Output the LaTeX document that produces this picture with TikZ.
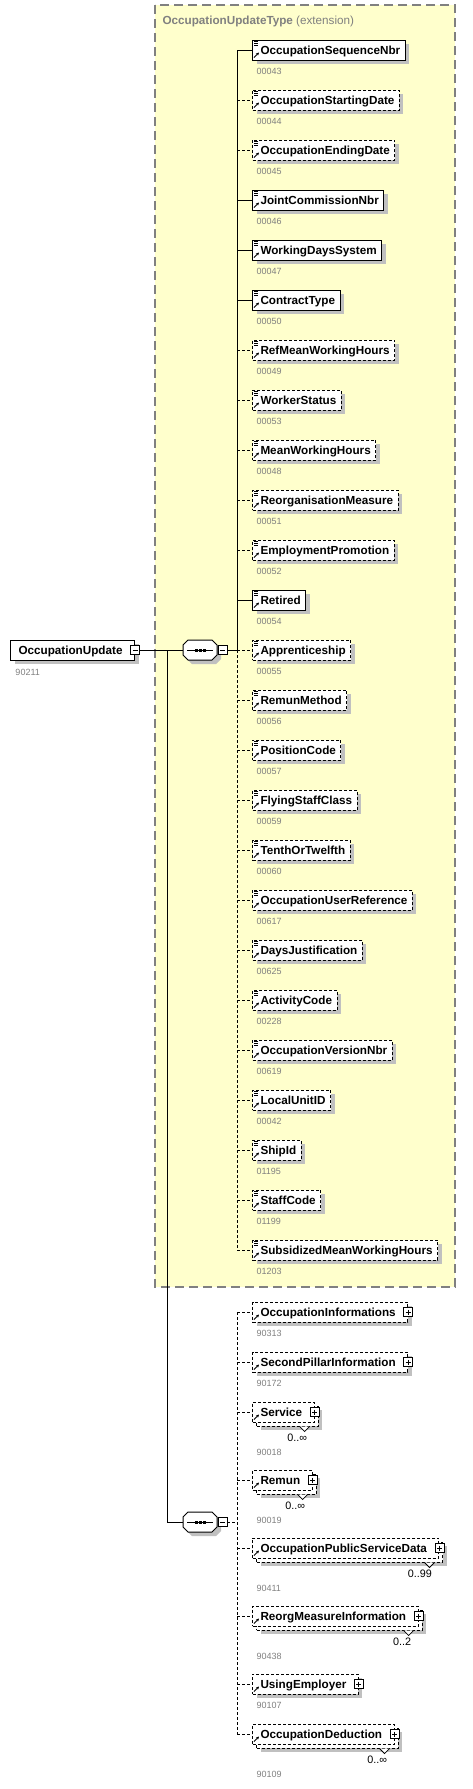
\documentclass[tikz,border=0pt]{standalone}
\usepackage{fontspec}
\setmainfont{Liberation Sans}
\usepackage{tikz}
\usetikzlibrary{positioning,calc,shadows,arrows.meta}

\definecolor{typefill}{RGB}{255,255,204}
\definecolor{typeborder}{RGB}{128,128,128}
\definecolor{idgray}{RGB}{128,128,128}
\definecolor{shadowgray}{RGB}{192,192,192}

\newcommand{\namefont}{\fontsize{11.7}{14}\selectfont\bfseries}
\newcommand{\idfont}{\fontsize{9}{11}\selectfont}
\newcommand{\occfont}{\fontsize{10.8}{12}\selectfont}

% small icons inside the element boxes
\newcommand{\simpleicon}[1]{%
  \draw[line width=0.7pt] ($(#1.north west)+(2,2)$) -- +(4,0)
    ($(#1.north west)+(2,4)$) -- +(4,0)
    ($(#1.north west)+(2,6)$) -- +(4,0);}
\newcommand{\refarrow}[1]{%
  \draw[line width=0.8pt,-{Stealth[length=3pt,width=3pt]}] ($(#1.south west)+(2,-3)$) -- +(5,-5);}
\newcommand{\manychevron}[2]{%
  \draw[line width=0.8pt,fill=white] ($(#1.south east)+(-15,4)$) -- +(5,5) -- +(10,0);
  \node[occ] (#1-occ) at ($(#1.south east)+(-7,15)$) {#2};}
% sequence compositor drawn round its node
\newcommand{\seqoctagon}[1]{%
  \begin{scope}[shift={(#1.center)}]
    \fill[shadowgray] (-13,-1) -- (-8,-6) -- (16,-6) -- (21,-1) -- (21,9) -- (16,14) -- (-8,14) -- (-13,9) -- cycle;
    \filldraw[fill=white] (-17,-5) -- (-12,-10) -- (12,-10) -- (17,-5) -- (17,5) -- (12,10) -- (-12,10) -- (-17,5) -- cycle;
    \draw[line width=0.8pt] (-13,0) -- (13,0);
    \foreach \dx in {-4,0,4}
      \fill (\dx-1.5,-1.5) rectangle (\dx+1.5,1.5);
  \end{scope}}

\tikzset{
  base/.style={draw, fill=white, anchor=west, minimum height=20pt, inner sep=0pt,
    text height=10pt, text depth=1.6pt, font=\namefont,
    execute at begin node={\hspace*{8pt}}},
  simple/.style={base, execute at end node={\hspace*{5pt}}},
  cplx/.style={base, execute at end node={\hspace*{12pt}}},
  shade/.style={drop shadow={shadow xshift=4pt, shadow yshift=-4pt, fill=shadowgray, opacity=1}},
  optional/.style={dash pattern=on 3pt off 2pt},
  multi/.style={preaction={fill=shadowgray, transform canvas={shift={(8pt,-8pt)}}},
    preaction={draw, fill=white, transform canvas={shift={(4pt,-4pt)}}}},
  idlabel/.style={anchor=west, inner sep=0pt, font=\idfont, text=idgray},
  occ/.style={anchor=east, inner sep=0pt, font=\occfont},
  pm/.style={draw, solid, fill=white, minimum size=9pt, inner sep=0pt, line width=0.8pt},
  minus/.style={pm, path picture={\draw[line width=0.8pt]
    ([xshift=2pt]path picture bounding box.west) -- ([xshift=-2pt]path picture bounding box.east);}},
  plus/.style={pm, path picture={\draw[line width=0.8pt]
    ([xshift=2pt]path picture bounding box.west) -- ([xshift=-2pt]path picture bounding box.east)
    ([yshift=-2pt]path picture bounding box.north) -- ([yshift=2pt]path picture bounding box.south);}},
  seq/.style={minimum width=34pt, minimum height=20pt, inner sep=0pt}
}

\begin{document}
\begin{tikzpicture}[x=1pt,y=-1pt,line width=1pt]
 \useasboundingbox (0,0) rectangle (473,1789);

 % the extension type
 \draw[typeborder, line width=1.2pt, dash pattern=on 9pt off 5pt, fill=typefill] (155,5) rectangle (455,1287);
 \node[anchor=west, inner sep=0pt, text height=10pt, text depth=1.6pt, text=typeborder, font=\namefont] (typeTitle) at (162,20) {OccupationUpdateType {\mdseries (extension)}};

 % root element
 \node[cplx, shade] (occupationUpdate) at (10,650) {OccupationUpdate};
 \node[minus] (mainToggle) at (occupationUpdate.east) {};
 \node[idlabel] (occupationUpdate-id) at (15,672) {90211};

 % the two sequences
 \node[seq] (seqA) at (200,650) {};
 \seqoctagon{seqA}
 \node[minus, right=0pt of seqA] (seqAToggle) {};
 \node[seq] (seqB) at (200,1522) {};
 \seqoctagon{seqB}
 \node[minus, right=0pt of seqB] (seqBToggle) {};
 \coordinate (branch) at (167,650);
 \coordinate (spineA) at (237,650);
 \coordinate (spineB) at (237,1522);

 \draw (mainToggle.east) -- (seqA.west);
 \draw (branch) |- (seqB.west);
 \draw (seqAToggle.east) -- (spineA);
 \draw[optional] (seqBToggle.east) -- (spineB);

 % simple elements of the type
 \foreach \nm/\id/\st [count=\i] in {
   OccupationSequenceNbr/00043/solid, OccupationStartingDate/00044/optional,
   OccupationEndingDate/00045/optional, JointCommissionNbr/00046/solid,
   WorkingDaysSystem/00047/solid, ContractType/00050/solid,
   RefMeanWorkingHours/00049/optional, WorkerStatus/00053/optional,
   MeanWorkingHours/00048/optional, ReorganisationMeasure/00051/optional,
   EmploymentPromotion/00052/optional, Retired/00054/solid,
   Apprenticeship/00055/optional, RemunMethod/00056/optional,
   PositionCode/00057/optional, FlyingStaffClass/00059/optional,
   TenthOrTwelfth/00060/optional, OccupationUserReference/00617/optional,
   DaysJustification/00625/optional, ActivityCode/00228/optional,
   OccupationVersionNbr/00619/optional, LocalUnitID/00042/optional,
   ShipId/01195/optional, StaffCode/01199/optional,
   SubsidizedMeanWorkingHours/01203/optional} {
   \node[simple, \st, shade] (e\i) at (252, {50*\i}) {\nm};
   \simpleicon{e\i}
   \refarrow{e\i}
   \node[idlabel] (e\i-id) at (256, {50*\i+21}) {\id};
   \draw[\st] (spineA |- e\i.west) -- (e\i.west);
 }
 \draw (spineA |- e1.west) -- (spineA);
 \draw[optional] (spineA) -- (spineA |- e25.west);

 % complex elements, once
 \foreach \n/\nm/\id/\y in {1/OccupationInformations/90313/1312,
   2/SecondPillarInformation/90172/1362, 7/UsingEmployer/90107/1684} {
   \node[cplx, optional, shade] (c\n) at (252, \y) {\nm};
   \node[idlabel] (c\n-id) at (256, {\y+21}) {\id};
 }
 % complex elements, repeated
 \foreach \n/\nm/\id/\oc/\y in {3/Service/90018/0..∞/1412, 4/Remun/90019/0..∞/1480,
   5/OccupationPublicServiceData/90411/0..99/1548, 6/ReorgMeasureInformation/90438/0..2/1616,
   8/OccupationDeduction/90109/0..∞/1734} {
   \node[cplx, optional, multi] (c\n) at (252, \y) {\nm};
   \manychevron{c\n}{\oc}
   \node[idlabel] (c\n-id) at (256, {\y+40}) {\id};
 }
 \foreach \n in {1,...,8} {
   \node[plus] (c\n-toggle) at (c\n.east) {};
   \refarrow{c\n}
   \draw[optional] (spineB |- c\n.west) -- (c\n.west);
 }
 \draw[optional] (spineB |- c1.west) -- (spineB |- c8.west);

\end{tikzpicture}
\end{document}
